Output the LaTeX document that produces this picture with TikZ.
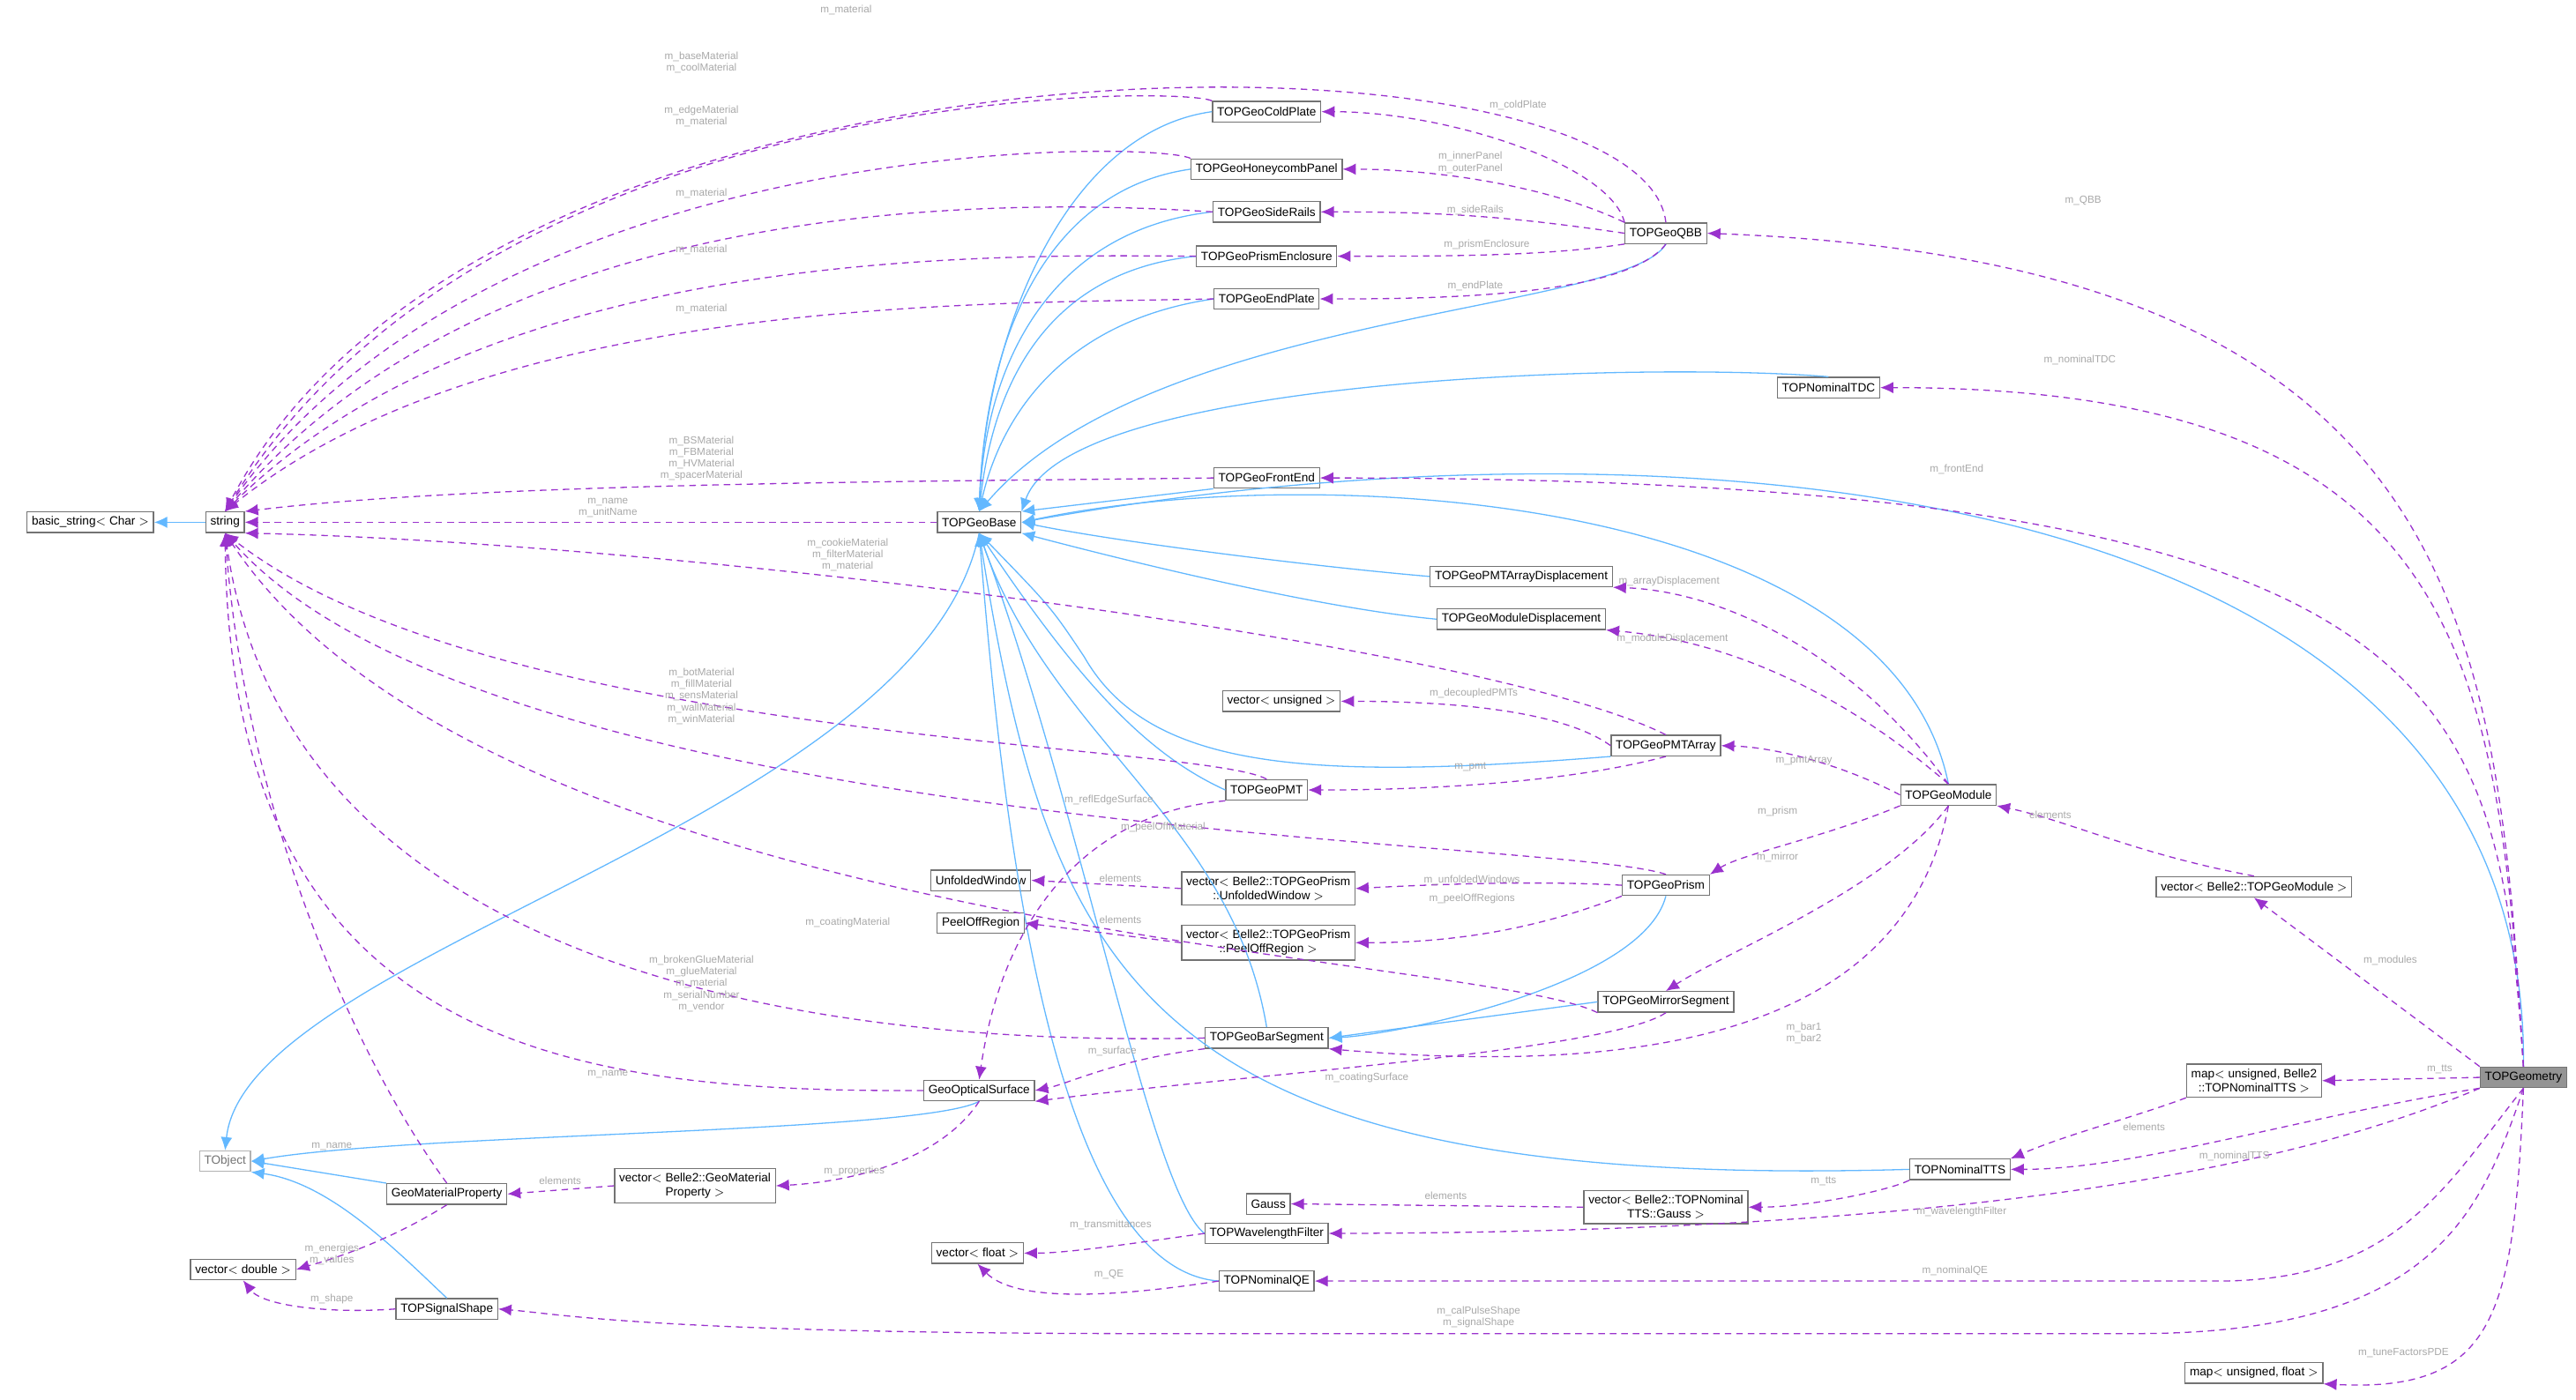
\documentclass[tikz,border=0pt]{standalone}
\usepackage{fontspec}
\setmainfont{Liberation Sans}
\usetikzlibrary{arrows.meta}
\definecolor{inhc}{HTML}{63B8FF}
\definecolor{memc}{HTML}{9A32CD}
\definecolor{lblc}{HTML}{A8A8A8}
\begin{document}
\begin{tikzpicture}[x=1pt,y=-1pt,
  cls/.style={draw=black!55,fill=white,font=\fontsize{7.3}{8.5}\selectfont,inner sep=2.8pt,minimum height=12.5pt,align=center,line width=0.7pt},
  inh/.style={draw=inhc,line width=0.7pt,-{Latex[length=8pt,width=7pt]}},
  mem/.style={draw=memc,line width=0.7pt,dashed,dash pattern=on 4pt off 3pt,-{Latex[length=8pt,width=7pt]}},
  lbl/.style={text=lblc,font=\fontsize{6.3}{7}\selectfont,align=center,inner sep=0.5pt}]
\useasboundingbox (0,0) rectangle (1568,852);
% nodes
\node[cls] (bstr) at (55,318) {basic\_string$<$ Char $>$};
\node[cls] (str) at (137,318) {string};
\node[cls] (base) at (596,318) {TOPGeoBase};
\node[cls,draw=black!30,text=black!55] (tobj) at (137,707) {TObject};
\node[cls] (vdbl) at (148,773) {vector$<$ double $>$};
\node[cls] (gmp) at (272,727) {GeoMaterialProperty};
\node[cls] (sig) at (272,797) {TOPSignalShape};
\node[cls,font=\fontsize{7.3}{8.7}\selectfont] (vgmp) at (423,722) {vector$<$ Belle2::GeoMaterial\\Property $>$};
\node[cls] (gos) at (596,664) {GeoOpticalSurface};
\node[cls] (gauss) at (772,733) {Gauss};
\node[cls] (vflt) at (595,763) {vector$<$ float $>$};
\node[cls] (uw) at (597,536) {UnfoldedWindow};
\node[cls] (por) at (597,562) {PeelOffRegion};
\node[cls] (cold) at (771,68) {TOPGeoColdPlate};
\node[cls] (honey) at (771,103) {TOPGeoHoneycombPanel};
\node[cls] (rails) at (771,129) {TOPGeoSideRails};
\node[cls] (encl) at (771,156) {TOPGeoPrismEnclosure};
\node[cls] (endp) at (771,182) {TOPGeoEndPlate};
\node[cls] (fe) at (771,291) {TOPGeoFrontEnd};
\node[cls] (pad) at (926,351) {TOPGeoPMTArrayDisplacement};
\node[cls] (mdisp) at (926,377) {TOPGeoModuleDisplacement};
\node[cls] (vuns) at (780,427) {vector$<$ unsigned $>$};
\node[cls] (pmt) at (771,481) {TOPGeoPMT};
\node[cls,font=\fontsize{7.3}{8.7}\selectfont] (vuw) at (772,541) {vector$<$ Belle2::TOPGeoPrism\\::UnfoldedWindow $>$};
\node[cls,font=\fontsize{7.3}{8.7}\selectfont] (vpor) at (772,574) {vector$<$ Belle2::TOPGeoPrism\\::PeelOffRegion $>$};
\node[cls] (bar) at (771,632) {TOPGeoBarSegment};
\node[cls] (wf) at (771,751) {TOPWavelengthFilter};
\node[cls] (qe) at (771,780) {TOPNominalQE};
\node[cls,font=\fontsize{7.3}{8.7}\selectfont] (vgauss) at (1014,735) {vector$<$ Belle2::TOPNominal\\TTS::Gauss $>$};
\node[cls] (qbb) at (1014,142) {TOPGeoQBB};
\node[cls] (tdc) at (1113,236) {TOPNominalTDC};
\node[cls] (pa) at (1014,454) {TOPGeoPMTArray};
\node[cls] (prism) at (1014,539) {TOPGeoPrism};
\node[cls] (mir) at (1014,610) {TOPGeoMirrorSegment};
\node[cls] (tts) at (1193,712) {TOPNominalTTS};
\node[cls] (mod) at (1186,484) {TOPGeoModule};
\node[cls] (vmod) at (1372,540) {vector$<$ Belle2::TOPGeoModule $>$};
\node[cls,font=\fontsize{7.3}{8.7}\selectfont] (mtts) at (1372,658) {map$<$ unsigned, Belle2\\::TOPNominalTTS $>$};
\node[cls] (mflt) at (1372,836) {map$<$ unsigned, float $>$};
\node[cls,fill=black!42] (geo) at (1536,656) {TOPGeometry};
% inheritance
\draw[inh] (str) -- (bstr);
\draw[inh] (cold.west) .. controls (650,80) and (600,200) .. (base.north);
\draw[inh] (honey.west) .. controls (640,115) and (600,200) .. (base.north);
\draw[inh] (rails.west) .. controls (640,140) and (600,220) .. (base.north);
\draw[inh] (encl.west) .. controls (640,165) and (605,230) .. (base.north);
\draw[inh] (endp.west) .. controls (650,195) and (610,250) .. (base.north);
\draw[inh] (qbb.south) .. controls (990,190) and (700,190) .. (base.north);
\draw[inh] (tdc.north) .. controls (1000,220) and (650,230) .. (base.north east);
\draw[inh] (fe.south west) -- (base.north east);
\draw[inh] (geo.north) .. controls (1540,280) and (1000,250) .. (base.east);
\draw[inh] (pad.west) .. controls (800,345) and (680,330) .. (base.east);
\draw[inh] (mdisp.west) .. controls (800,370) and (680,340) .. (base.south east);
\draw[inh] (pa.south west) .. controls (800,475) and (700,470) .. (660,400) .. controls (640,370) .. (base.south);
\draw[inh] (mod.north) .. controls (1150,300) and (800,280) .. (base.east);
\draw[inh] (pmt.west) .. controls (700,460) and (660,420) .. (base.south);
\draw[inh] (bar.north) .. controls (750,500) and (640,450) .. (base.south);
\draw[inh] (tts.west) .. controls (700,725) and (640,600) .. (base.south);
\draw[inh] (wf.west) .. controls (700,725) and (660,500) .. (base.south);
\draw[inh] (qe.west) .. controls (640,772) and (610,500) .. (base.south);
\draw[inh] (prism.south) .. controls (1000,600) and (850,630) .. (bar.east);
\draw[inh] (mir.west) -- (bar.east);
\draw[inh] (base.south) .. controls (560,500) and (150,580) .. (tobj.north);
\draw[inh] (gos.south) .. controls (560,690) and (250,690) .. (tobj.east);
\draw[inh] (gmp.north west) -- (tobj.east);
\draw[inh] (sig.north) .. controls (240,760) and (200,720) .. (tobj.south east);
% members to string
\draw[mem] (qbb.north) .. controls (1000,10) and (300,0) .. (str.north);
\draw[mem] (cold.north west) .. controls (720,52) and (300,48) .. (str.north);
\draw[mem] (honey.north west) .. controls (700,85) and (300,80) .. (str.north);
\draw[mem] (rails.west) .. controls (600,120) and (300,120) .. (str.north);
\draw[mem] (encl.west) .. controls (600,155) and (300,150) .. (str.north);
\draw[mem] (endp.west) .. controls (600,185) and (300,180) .. (str.north);
\draw[mem] (fe.west) .. controls (600,293) and (300,293) .. (str.north east);
\draw[mem] (base.west) -- (str.east);
\draw[mem] (pa.north) .. controls (900,390) and (400,330) .. (str.south east);
\draw[mem] (pmt.north) .. controls (730,452) and (300,452) .. (str.south);
\draw[mem] (prism.north) .. controls (950,510) and (300,510) .. (str.south);
\draw[mem] (mir.south west) .. controls (900,580) and (300,570) .. (str.south);
\draw[mem] (bar.west) .. controls (600,635) and (180,630) .. (str.south);
\draw[mem] (gos.west) .. controls (350,665) and (140,640) .. (str.south);
\draw[mem] (gmp.north) .. controls (220,650) and (150,500) .. (str.south);
% other members
\draw[mem] (gmp.south) .. controls (230,760) and (190,770) .. (vdbl.east);
\draw[mem] (sig.west) .. controls (200,800) and (160,795) .. (vdbl.south);
\draw[mem] (vgmp.west) -- (gmp.east);
\draw[mem] (gos.south) .. controls (570,710) and (510,720) .. (vgmp.east);
\draw[mem] (qbb.north west) .. controls (980,100) and (880,68) .. (cold.east);
\draw[mem] (qbb.north west) .. controls (940,112) and (870,103) .. (honey.east);
\draw[mem] (qbb.west) .. controls (920,132) and (880,129) .. (rails.east);
\draw[mem] (qbb.south west) .. controls (940,156) and (880,156) .. (encl.east);
\draw[mem] (qbb.south) .. controls (990,180) and (880,182) .. (endp.east);
\draw[mem] (geo.north) .. controls (1520,380) and (1500,160) .. (qbb.east);
\draw[mem] (geo.north) .. controls (1520,400) and (1500,236) .. (tdc.east);
\draw[mem] (geo.north) .. controls (1520,420) and (1500,291) .. (fe.east);
\draw[mem] (geo.north west) -- (vmod.south);
\draw[mem] (geo.west) -- (mtts.east);
\draw[mem] (geo.south west) .. controls (1400,680) and (1300,712) .. (tts.east);
\draw[mem] (geo.south west) .. controls (1420,700) and (1250,750) .. (wf.east);
\draw[mem] (geo.south) .. controls (1490,720) and (1460,780) .. (1350,780) -- (qe.east);
\draw[mem] (geo.south) .. controls (1510,740) and (1480,812) .. (1300,812) -- (700,812) .. controls (400,812) and (340,800) .. (sig.east);
\draw[mem] (geo.south) .. controls (1530,800) and (1520,848) .. (mflt.south east);
\draw[mem] (vmod.north) .. controls (1300,520) and (1260,500) .. (mod.south east);
\draw[mem] (mod.north) .. controls (1130,400) and (1050,360) .. (pad.south east);
\draw[mem] (mod.north) .. controls (1120,420) and (1050,390) .. (mdisp.south east);
\draw[mem] (mod.west) .. controls (1120,465) and (1080,455) .. (pa.east);
\draw[mem] (mod.south west) .. controls (1110,510) and (1060,520) .. (prism.north east);
\draw[mem] (mod.south) .. controls (1150,540) and (1050,580) .. (mir.north);
\draw[mem] (mod.south) .. controls (1160,630) and (1000,655) .. (bar.south east);
\draw[mem] (pa.west) .. controls (950,432) and (880,427) .. (vuns.east);
\draw[mem] (pa.south) .. controls (960,475) and (880,481) .. (pmt.east);
\draw[mem] (pmt.south west) .. controls (660,495) and (610,560) .. (gos.north);
\draw[mem] (prism.west) .. controls (950,537) and (900,537) .. (vuw.east);
\draw[mem] (prism.south west) .. controls (950,560) and (900,574) .. (vpor.east);
\draw[mem] (vuw.west) -- (uw.east);
\draw[mem] (vpor.west) -- (por.east);
\draw[mem] (bar.south west) .. controls (680,645) and (650,660) .. (gos.east);
\draw[mem] (mir.south) .. controls (980,640) and (750,655) .. (gos.south east);
\draw[mem] (mtts.south west) .. controls (1300,680) and (1260,690) .. (tts.north east);
\draw[mem] (tts.south west) .. controls (1150,725) and (1100,735) .. (vgauss.east);
\draw[mem] (vgauss.west) -- (gauss.east);
\draw[mem] (wf.west) .. controls (690,757) and (650,763) .. (vflt.east);
\draw[mem] (qe.west) .. controls (690,788) and (620,795) .. (vflt.south);
% labels
\node[lbl] at (515,6) {m\_material};
\node[lbl] at (427,38) {m\_baseMaterial\\m\_coolMaterial};
\node[lbl] at (427,71) {m\_edgeMaterial\\m\_material};
\node[lbl] at (427,118) {m\_material};
\node[lbl] at (427,152) {m\_material};
\node[lbl] at (427,188) {m\_material};
\node[lbl] at (427,279) {m\_BSMaterial\\m\_FBMaterial\\m\_HVMaterial\\m\_spacerMaterial};
\node[lbl] at (370,309) {m\_name\\m\_unitName};
\node[lbl] at (516,338) {m\_cookieMaterial\\m\_filterMaterial\\m\_material};
\node[lbl] at (427,424) {m\_botMaterial\\m\_fillMaterial\\m\_sensMaterial\\m\_wallMaterial\\m\_winMaterial};
\node[lbl] at (708,504) {m\_peelOffMaterial};
\node[lbl] at (516,562) {m\_coatingMaterial};
\node[lbl] at (427,599) {m\_brokenGlueMaterial\\m\_glueMaterial\\m\_material\\m\_serialNumber\\m\_vendor};
\node[lbl] at (370,654) {m\_name};
\node[lbl] at (202,698) {m\_name};
\node[lbl] at (202,764) {m\_energies\\m\_values};
\node[lbl] at (202,791) {m\_shape};
\node[lbl] at (341,719) {elements};
\node[lbl] at (520,713) {m\_properties};
\node[lbl] at (924,64) {m\_coldPlate};
\node[lbl] at (895,99) {m\_innerPanel\\m\_outerPanel};
\node[lbl] at (898,128) {m\_sideRails};
\node[lbl] at (905,149) {m\_prismEnclosure};
\node[lbl] at (898,174) {m\_endPlate};
\node[lbl] at (1268,122) {m\_QBB};
\node[lbl] at (1266,219) {m\_nominalTDC};
\node[lbl] at (1191,286) {m\_frontEnd};
\node[lbl] at (1455,585) {m\_modules};
\node[lbl] at (1485,651) {m\_tts};
\node[lbl] at (1360,704) {m\_nominalTTS};
\node[lbl] at (1194,738) {m\_wavelengthFilter};
\node[lbl] at (1190,774) {m\_nominalQE};
\node[lbl] at (900,802) {m\_calPulseShape\\m\_signalShape};
\node[lbl] at (1463,824) {m\_tuneFactorsPDE};
\node[lbl] at (1248,496) {elements};
\node[lbl] at (1016,354) {m\_arrayDisplacement};
\node[lbl] at (1018,389) {m\_moduleDisplacement};
\node[lbl] at (1098,463) {m\_pmtArray};
\node[lbl] at (1082,494) {m\_prism};
\node[lbl] at (1082,522) {m\_mirror};
\node[lbl] at (1098,629) {m\_bar1\\m\_bar2};
\node[lbl] at (1305,686) {elements};
\node[lbl] at (1110,719) {m\_tts};
\node[lbl] at (897,422) {m\_decoupledPMTs};
\node[lbl] at (895,467) {m\_pmt};
\node[lbl] at (675,487) {m\_reflEdgeSurface};
\node[lbl] at (896,536) {m\_unfoldedWindows};
\node[lbl] at (896,547) {m\_peelOffRegions};
\node[lbl] at (682,535) {elements};
\node[lbl] at (682,560) {elements};
\node[lbl] at (677,640) {m\_surface};
\node[lbl] at (832,656) {m\_coatingSurface};
\node[lbl] at (880,728) {elements};
\node[lbl] at (676,746) {m\_transmittances};
\node[lbl] at (675,776) {m\_QE};
\end{tikzpicture}
\end{document}
